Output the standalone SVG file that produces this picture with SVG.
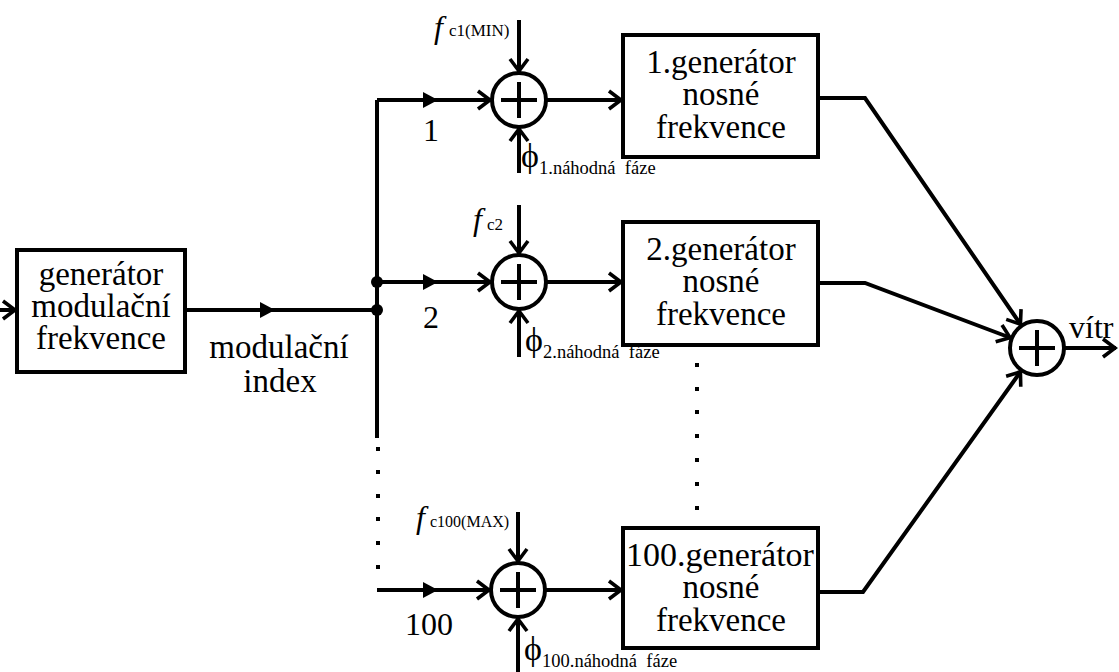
<svg xmlns="http://www.w3.org/2000/svg" xmlns:xlink="http://www.w3.org/1999/xlink" width="1119" height="672" viewBox="0 0 1119 672" font-family="'Liberation Serif', 'Times New Roman', Tinos, 'DejaVu Serif', 'Noto Serif', serif">
<style>
.lbl{font-size:33px;text-anchor:middle}
.num{font-size:32px}
.f{font-size:32px;font-style:italic}
.sub{font-size:17px}
.phi{font-size:34px}
.psub{font-size:18.5px;white-space:pre}
.box{fill:#fff;stroke:#000;stroke-width:4}
.ln{fill:none;stroke:#000;stroke-width:4}
.sum{fill:#fff;stroke:#000;stroke-width:4}
.dot{fill:#000}
</style>
<defs>
<marker id="chev" markerUnits="userSpaceOnUse" markerWidth="30" markerHeight="30" viewBox="-20 -15 30 30" refX="0" refY="0" orient="auto">
<path d="M-13,-9 L-1,0 L-13,9" fill="none" stroke="#000" stroke-width="3.6"/>
</marker>
<path id="tri" d="M-15,-8 L0,0 L-15,8 Z" fill="#000"/>
<g id="plus"><circle r="27" class="sum"/><path d="M-18,0 H18 M0,-18 V18" stroke="#000" stroke-width="4"/></g>
</defs>

<g id="connectors">
<path class="ln" d="M0,310 H16" marker-end="url(#chev)"/>
<path class="ln" d="M185,310 H377"/>
<use xlink:href="#tri" x="275" y="310"/>
<path class="ln" d="M377,100 V438"/>
<circle class="dot" cx="377" cy="282" r="6"/>
<circle class="dot" cx="377" cy="310" r="6"/>
<path class="ln" d="M377,100 H491" marker-end="url(#chev)"/>
<use xlink:href="#tri" x="438" y="100"/>
<path class="ln" d="M519,20 V72" marker-end="url(#chev)"/>
<path class="ln" d="M519,173 V128" marker-end="url(#chev)"/>
<path class="ln" d="M546,100 H622" marker-end="url(#chev)"/>
<path class="ln" d="M377,282 H491" marker-end="url(#chev)"/>
<use xlink:href="#tri" x="438" y="282"/>
<path class="ln" d="M519,205 V254" marker-end="url(#chev)"/>
<path class="ln" d="M519,357 V310" marker-end="url(#chev)"/>
<path class="ln" d="M546,282 H622" marker-end="url(#chev)"/>
<path class="ln" d="M377,590 H490" marker-end="url(#chev)"/>
<use xlink:href="#tri" x="438" y="590"/>
<path class="ln" d="M518,512 V562" marker-end="url(#chev)"/>
<path class="ln" d="M518,672 V618" marker-end="url(#chev)"/>
<path class="ln" d="M545,590 H622" marker-end="url(#chev)"/>
<path class="ln" d="M818,98 H865 L1021,325" marker-end="url(#chev)"/>
<path class="ln" d="M818,283 H865 L1011,338" marker-end="url(#chev)"/>
<path class="ln" d="M818,592 H863 L1021,371" marker-end="url(#chev)"/>
<path class="ln" d="M1064,348 H1116" marker-end="url(#chev)"/>
<g class="dot">
<rect x="376" y="447" width="4" height="4"/>
<rect x="376" y="470" width="4" height="4"/>
<rect x="376" y="494" width="4" height="4"/>
<rect x="376" y="517" width="4" height="4"/>
<rect x="376" y="541" width="4" height="4"/>
<rect x="376" y="565" width="4" height="4"/>
<rect x="695" y="363" width="4" height="4"/>
<rect x="695" y="387" width="4" height="4"/>
<rect x="695" y="410" width="4" height="4"/>
<rect x="695" y="434" width="4" height="4"/>
<rect x="695" y="458" width="4" height="4"/>
<rect x="695" y="482" width="4" height="4"/>
<rect x="695" y="506" width="4" height="4"/>
</g>
</g>

<g id="modgen">
<rect class="box" x="17" y="250" width="168" height="122"/>
<text class="lbl" x="101" y="285">generátor</text>
<text class="lbl" x="101" y="317">modulační</text>
<text class="lbl" x="101" y="349">frekvence</text>
</g>
<g id="modindex">
<text class="lbl" x="279" y="358">modulační</text>
<text class="lbl" x="280" y="392">index</text>
</g>

<g id="label1"><text class="num" x="423" y="141">1</text></g>
<g id="label2"><text class="num" x="423" y="328">2</text></g>
<g id="label100"><text class="num" x="405" y="635">100</text></g>

<g id="sum1">
<use xlink:href="#plus" x="519" y="100"/>
<text class="f" x="434" y="38">f</text><text class="sub" x="449" y="36">c1(MIN)</text>
<text class="phi" x="521" y="167">ϕ</text><text class="psub" x="539" y="174">1.náhodná  fáze</text>
</g>
<g id="sum2">
<use xlink:href="#plus" x="519" y="282"/>
<text class="f" x="473" y="230">f</text><text class="sub" x="487" y="230">c2</text>
<text class="phi" x="525" y="351">ϕ</text><text class="psub" x="543" y="358">2.náhodná  fáze</text>
</g>
<g id="sum100">
<use xlink:href="#plus" x="518" y="590"/>
<text class="f" x="416" y="528">f</text><text class="sub" x="430" y="527" style="font-size:16px">c100(MAX)</text>
<text class="phi" x="524" y="660">ϕ</text><text class="psub" x="542" y="667">100.náhodná  fáze</text>
</g>

<g id="gen1">
<rect class="box" x="623" y="35" width="195" height="122"/>
<text class="lbl" x="721" y="73">1.generátor</text>
<text class="lbl" x="721" y="105">nosné</text>
<text class="lbl" x="721" y="138">frekvence</text>
</g>
<g id="gen2">
<rect class="box" x="623" y="222" width="195" height="123"/>
<text class="lbl" x="721" y="260">2.generátor</text>
<text class="lbl" x="721" y="292">nosné</text>
<text class="lbl" x="721" y="325">frekvence</text>
</g>
<g id="gen100">
<rect class="box" x="623" y="528" width="195" height="120"/>
<text class="lbl" x="720" y="566" style="font-size:34px">100.generátor</text>
<text class="lbl" x="721" y="598">nosné</text>
<text class="lbl" x="721" y="631">frekvence</text>
</g>

<g id="sumfinal">
<use xlink:href="#plus" x="1037" y="348"/>
<text class="num" x="1069" y="338">vítr</text>
</g>
</svg>
